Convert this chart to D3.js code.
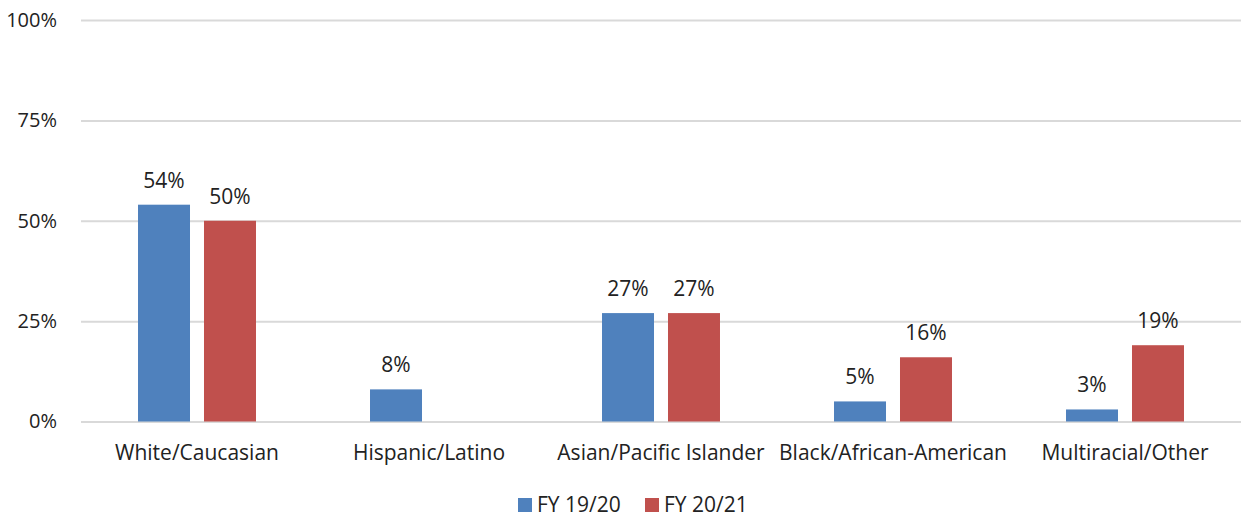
<!DOCTYPE html>
<html>
<head>
<meta charset="utf-8">
<script src="https://cdn.jsdelivr.net/npm/d3@7"></script>
<style>
  html, body { margin: 0; padding: 0; background: #fff; }
  svg text { font-family: "Open Sans", Lato, "Liberation Sans", sans-serif; fill: #222; }
</style>
</head>
<body>
<svg id="chart" width="1241" height="517"></svg>
<script>
// Share of participants by race/ethnicity, two fiscal years
const categories = ["White/Caucasian", "Hispanic/Latino", "Asian/Pacific Islander", "Black/African-American", "Multiracial/Other"];
const seriesNames = ["FY 19/20", "FY 20/21"];
const fy1920 = [54, 8, 27, 5, 3];
const fy2021 = [50, null, 27, 16, 19];
const yTicks = [0, 25, 50, 75, 100];
const colors = ["#4F81BD", "#C0504D"];

const svg = d3.select("#chart");
const margin = { left: 81, right: 0, top: 20, bottom: 96 };
const W = 1241, H = 517;
const labelSize = "21px";
const tickSize = "20px";

const x0 = d3.scaleBand().domain(categories).range([margin.left, W - margin.right]).padding(0);
const x1 = d3.scaleBand().domain(seriesNames).range([0, x0.bandwidth()]).paddingInner(0.212).paddingOuter(0.864);
const y = d3.scaleLinear().domain([0, 100]).range([H - margin.bottom + 0.5, margin.top]);

// Gridlines and percentage ticks
const yAxis = d3.axisLeft(y).tickValues(yTicks).tickFormat(d => d + "%").tickSize(-(W - margin.left - margin.right)).tickPadding(24);
const gy = svg.append("g").attr("transform", `translate(${margin.left},0)`).call(yAxis);
gy.select(".domain").remove();
gy.selectAll(".tick line").attr("stroke", "#d9d9d9").attr("stroke-width", 2);
gy.selectAll(".tick text").style("font-size", tickSize).attr("fill", "#222");

// Bars with value labels
const rows = categories.map((c, i) => ({ cat: c, vals: [fy1920[i], fy2021[i]] }));
const groups = svg.append("g").selectAll("g").data(rows).join("g")
  .attr("transform", d => `translate(${x0(d.cat)},0)`);

const items = groups.selectAll("g.bar").data(d => d.vals.map((v, j) => ({ s: seriesNames[j], v, j })).filter(e => e.v != null))
  .join("g").attr("class", "bar");

items.append("rect")
  .attr("x", d => x1(d.s))
  .attr("width", x1.bandwidth())
  .attr("y", d => y(d.v))
  .attr("height", d => y(0) - y(d.v))
  .attr("fill", d => colors[d.j]);

items.append("text")
  .attr("x", d => x1(d.s) + x1.bandwidth() / 2)
  .attr("y", d => y(d.v) - 17)
  .attr("text-anchor", "middle")
  .style("font-size", labelSize)
  .text(d => d.v + "%");

// Category axis labels
const xAxis = d3.axisBottom(x0).tickSize(0).tickPadding(24);
const gx = svg.append("g").attr("transform", `translate(0,${y(0)})`).call(xAxis);
gx.select(".domain").remove();
gx.selectAll(".tick text").style("font-size", labelSize).attr("fill", "#222");

// Legend
const legendX = [518, 645];
const legend = svg.append("g").selectAll("g").data(seriesNames).join("g")
  .attr("transform", (d, i) => `translate(${legendX[i]},498)`);
legend.append("rect").attr("width", 14).attr("height", 14).attr("fill", (d, i) => colors[i]);
legend.append("text").attr("x", 19).attr("y", 14).style("font-size", labelSize).text(d => d);
</script>
</body>
</html>
